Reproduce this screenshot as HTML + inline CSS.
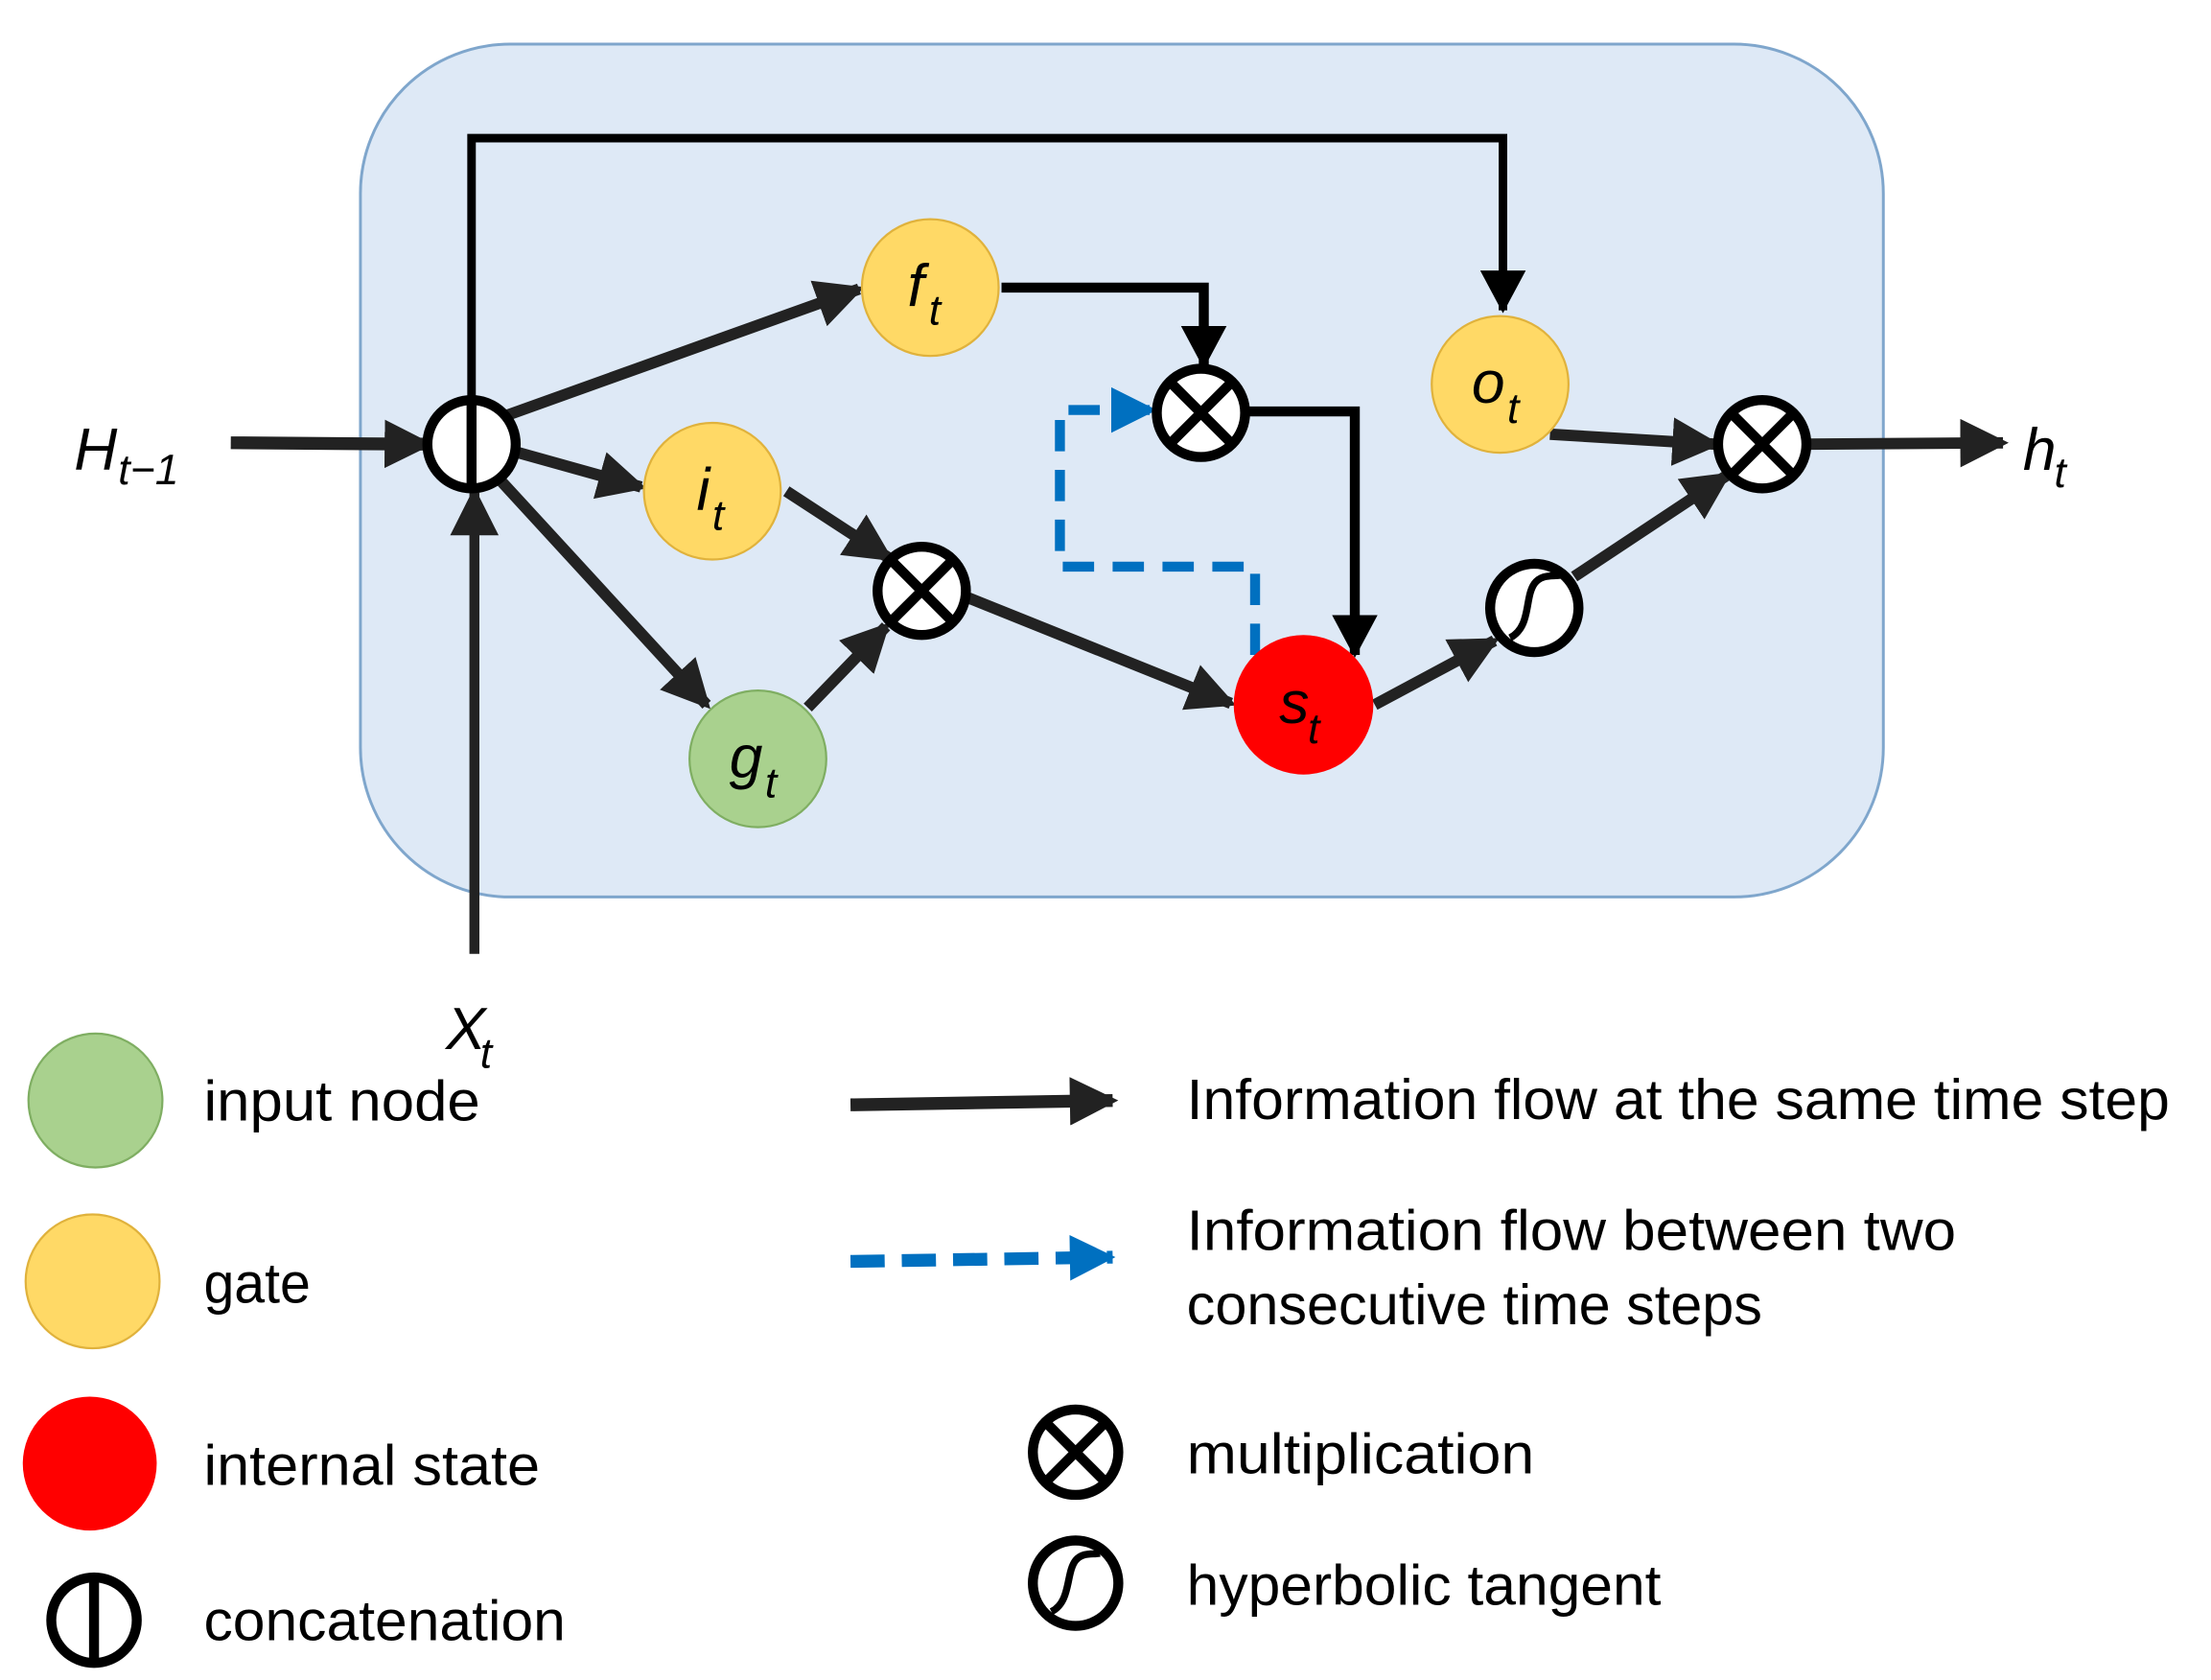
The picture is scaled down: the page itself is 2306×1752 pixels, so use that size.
<!DOCTYPE html>
<html><head><meta charset="utf-8"><style>
html,body{margin:0;padding:0;background:#fff;}
svg{display:block}
text{font-family:"Liberation Sans",sans-serif;fill:#000}
.m{font-style:italic;font-size:42px}
.s{font-style:italic;font-size:30px}
.l{font-size:40px}
</style></head><body>
<svg width="2306" height="1752" viewBox="0 0 1552 1180" preserveAspectRatio="none" xmlns="http://www.w3.org/2000/svg">
<defs>
<marker id="a" markerUnits="userSpaceOnUse" markerWidth="34" markerHeight="34" refX="30" refY="17" orient="auto"><path d="M0,0 L34,17 L0,34 Z" fill="#222"/></marker>
<marker id="k" markerUnits="userSpaceOnUse" markerWidth="30" markerHeight="32" refX="28" refY="16" orient="auto"><path d="M0,0 L30,16 L0,32 Z" fill="#000"/></marker>
<marker id="b" markerUnits="userSpaceOnUse" markerWidth="32" markerHeight="32" refX="30" refY="16" orient="auto"><path d="M0,0 L32,16 L0,32 Z" fill="#0070c0"/></marker>
</defs>
<rect x="253" y="31" width="1069" height="599" rx="105" fill="#dee9f6" stroke="#7fa6cc" stroke-width="2"/>

<polyline points="331,318 331,97 1055,97 1055,218" fill="none" stroke="#000" stroke-width="6" marker-end="url(#k)"/>
<line x1="162" y1="311" x2="300" y2="312" stroke="#222" stroke-width="9" marker-end="url(#a)"/>
<line x1="333" y1="670" x2="333" y2="346" stroke="#222" stroke-width="7" marker-end="url(#a)"/>
<g stroke="#222" stroke-width="8" fill="none">
<line x1="355" y1="292" x2="603" y2="203" marker-end="url(#a)"/>
<line x1="364" y1="318" x2="450" y2="342" marker-end="url(#a)"/>
<line x1="350" y1="336" x2="496" y2="495" marker-end="url(#a)"/>
<line x1="552" y1="345" x2="624" y2="392" marker-end="url(#a)"/>
<line x1="567" y1="497" x2="622" y2="440" marker-end="url(#a)"/>
<line x1="680" y1="420" x2="864" y2="494" marker-end="url(#a)"/>
<line x1="965" y1="495" x2="1049" y2="450" marker-end="url(#a)"/>
<line x1="1105" y1="405" x2="1212" y2="334" marker-end="url(#a)"/>
<line x1="1088" y1="305" x2="1204" y2="312" marker-end="url(#a)"/>
<line x1="1270" y1="312" x2="1406" y2="311" marker-end="url(#a)"/>
</g>
<polyline points="703,202 845,202 845,257" fill="none" stroke="#000" stroke-width="7" marker-end="url(#k)"/>
<polyline points="875,289 951,289 951,460" fill="none" stroke="#000" stroke-width="7" marker-end="url(#k)"/>
<polyline points="881,460 881,398 744,398 744,288 810,288" fill="none" stroke="#0070c0" stroke-width="7" stroke-dasharray="22,13" marker-end="url(#b)"/>

<circle cx="653" cy="202" r="48" fill="#ffd966" stroke="#e0b23c" stroke-width="1.5"/>
<circle cx="500" cy="345" r="48" fill="#ffd966" stroke="#e0b23c" stroke-width="1.5"/>
<circle cx="532" cy="533" r="48" fill="#a9d18e" stroke="#7fae62" stroke-width="1.5"/>
<circle cx="1053" cy="270" r="48" fill="#ffd966" stroke="#e0b23c" stroke-width="1.5"/>
<circle cx="915" cy="495" r="49" fill="#ff0000"/>
<text class="m" x="637" y="215">f</text><text class="s" x="652" y="228">t</text>
<text class="m" x="489" y="358">i</text><text class="s" x="500" y="372">t</text>
<text class="m" x="512" y="546">g</text><text class="s" x="537" y="560">t</text>
<text class="m" x="1033" y="283">o</text><text class="s" x="1058" y="297">t</text>
<text class="m" x="898" y="508">s</text><text class="s" x="918" y="522">t</text>

<g fill="#fff" stroke="#000" stroke-width="7">
<circle cx="331" cy="312" r="31"/><line x1="331" y1="281" x2="331" y2="343"/>
<circle cx="843" cy="290" r="31"/><line x1="821" y1="268" x2="865" y2="312"/><line x1="865" y1="268" x2="821" y2="312"/>
<circle cx="647" cy="415" r="31"/><line x1="625" y1="393" x2="669" y2="437"/><line x1="669" y1="393" x2="625" y2="437"/>
<circle cx="1237" cy="312" r="31"/><line x1="1215" y1="290" x2="1259" y2="334"/><line x1="1259" y1="290" x2="1215" y2="334"/>
<circle cx="1077" cy="427" r="31"/><path d="M1060,448 C1075,440 1070,420 1077,410 C1082,403 1090,405 1095,404" fill="none" stroke-width="5"/>
</g>
<text class="m" x="52" y="330">H</text><text class="s" x="83" y="340">t−1</text>
<text class="m" x="1420" y="330">h</text><text class="s" x="1442" y="342">t</text>
<text class="m" x="313" y="737">X</text><text class="s" x="337" y="750">t</text>

<circle cx="67" cy="773" r="47" fill="#a9d18e" stroke="#7fae62" stroke-width="1.5"/>
<circle cx="65" cy="900" r="47" fill="#ffd966" stroke="#e0b23c" stroke-width="1.5"/>
<circle cx="63" cy="1028" r="47" fill="#ff0000"/>
<g fill="#fff" stroke="#000" stroke-width="7">
<circle cx="66" cy="1138" r="30"/><line x1="66" y1="1108" x2="66" y2="1168"/>
<circle cx="755" cy="1020" r="30"/><line x1="734" y1="999" x2="776" y2="1041"/><line x1="776" y1="999" x2="734" y2="1041"/>
<circle cx="755" cy="1112" r="30"/><path d="M738,1132 C752,1125 748,1105 755,1096 C760,1090 767,1092 772,1091" fill="none" stroke-width="5"/>
</g>
<text class="l" x="143" y="787" textLength="194" lengthAdjust="spacingAndGlyphs">input node</text>
<text class="l" x="143" y="915" textLength="75" lengthAdjust="spacingAndGlyphs">gate</text>
<text class="l" x="143" y="1043" textLength="236" lengthAdjust="spacingAndGlyphs">internal state</text>
<text class="l" x="143" y="1152" textLength="254" lengthAdjust="spacingAndGlyphs">concatenation</text>
<line x1="597" y1="776" x2="781" y2="773" stroke="#222" stroke-width="9" marker-end="url(#a)"/>
<line x1="597" y1="886" x2="781" y2="883" stroke="#0070c0" stroke-width="9" stroke-dasharray="24,12" marker-end="url(#b)"/>
<text class="l" x="833" y="786" textLength="690" lengthAdjust="spacingAndGlyphs">Information flow at the same time step</text>
<text class="l" x="833" y="878" textLength="540" lengthAdjust="spacingAndGlyphs">Information flow between two</text>
<text class="l" x="833" y="930" textLength="404" lengthAdjust="spacingAndGlyphs">consecutive time steps</text>
<text class="l" x="833" y="1035" textLength="244" lengthAdjust="spacingAndGlyphs">multiplication</text>
<text class="l" x="833" y="1127" textLength="333" lengthAdjust="spacingAndGlyphs">hyperbolic tangent</text>
</svg>
</body></html>
